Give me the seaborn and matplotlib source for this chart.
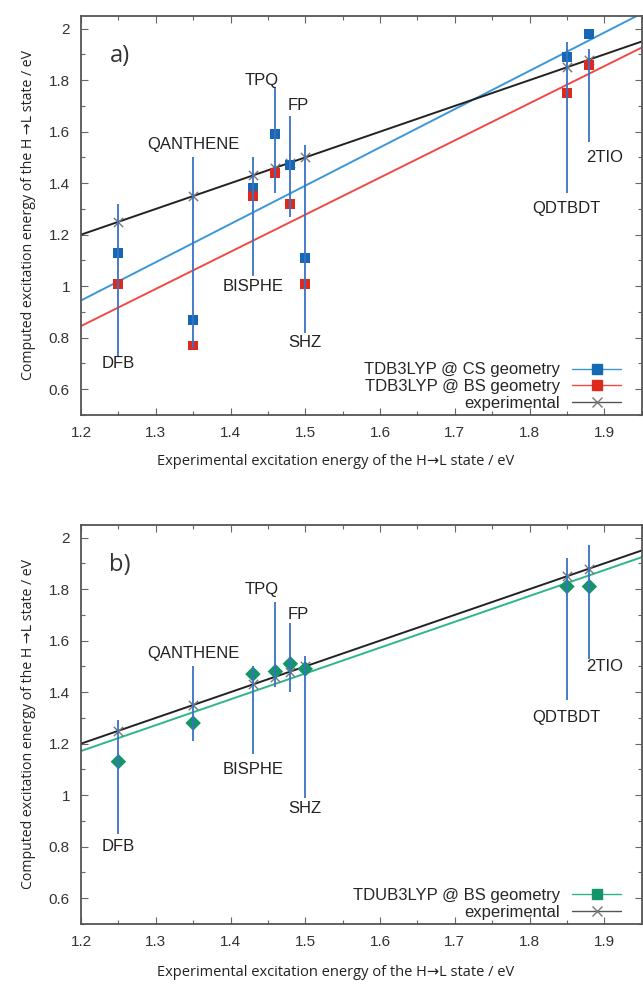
import numpy as np
import pandas as pd
import seaborn as sns
import matplotlib
import matplotlib.pyplot as plt
from matplotlib.lines import Line2D
from matplotlib.ticker import MultipleLocator

matplotlib.use("agg")

# data
molecules = ["DFB", "QANTHENE", "BISPHE", "TPQ", "FP", "SHZ", "QDTBDT", "2TIO"]
exp_energy = [1.25, 1.35, 1.43, 1.46, 1.48, 1.50, 1.85, 1.88]
cs_b3lyp = [1.13, 0.87, 1.38, 1.59, 1.47, 1.11, 1.89, 1.98]
bs_b3lyp = [1.01, 0.77, 1.35, 1.44, 1.32, 1.01, 1.75, 1.86]
bs_ub3lyp = [1.13, 1.28, 1.47, 1.48, 1.51, 1.49, 1.81, 1.81]

# vertical range bars
range_lo_a = [0.73, 0.76, 1.04, 1.36, 1.27, 0.82, 1.36, 1.56]
range_hi_a = [1.32, 1.50, 1.50, 1.77, 1.66, 1.55, 1.95, 1.92]
range_lo_b = [0.85, 1.21, 1.16, 1.42, 1.40, 0.99, 1.37, 1.53]
range_hi_b = [1.29, 1.50, 1.50, 1.75, 1.67, 1.54, 1.92, 1.97]

# where the molecule names sit
name_x = [1.25, 1.35, 1.43, 1.441, 1.49, 1.50, 1.849, 1.90]
name_y_a = [0.70, 1.55, 1.00, 1.80, 1.70, 0.78, 1.30, 1.50]
name_y_b = [0.80, 1.55, 1.10, 1.80, 1.70, 0.95, 1.30, 1.50]

df = pd.DataFrame({"mol": molecules, "exp": exp_energy, "cs": cs_b3lyp,
                   "bs": bs_b3lyp, "ubs": bs_ub3lyp})

sns.set_theme(style="ticks")
plt.rcParams["font.family"] = ["Liberation Sans", "DejaVu Sans"]

BLUE_PT, BLUE_LN = "#1668b4", "#3b97d8"
RED_PT, RED_LN = "#dd2a1e", "#f04a44"
GRN_PT, GRN_LN = "#13946a", "#2fb58c"
BLK_LN, CROSS = "#222222", "#777777"
BAR = "#3a72c4"
LABEL_FONT = ["Open Sans", "DejaVu Sans"]

fig, (ax1, ax2) = plt.subplots(2, 1, figsize=(6.43, 9.85), dpi=100)
fig.subplots_adjust(left=0.126, right=0.998, top=0.984, bottom=0.062, hspace=0.275)


def style_axes(ax, tag, xlab_y):
    ax.set_xlim(1.2, 1.95)
    ax.set_ylim(0.5, 2.05)
    ax.xaxis.set_major_locator(MultipleLocator(0.1))
    ax.xaxis.set_minor_locator(MultipleLocator(0.05))
    ax.yaxis.set_minor_locator(MultipleLocator(0.1))
    ax.set_yticks(np.arange(0.6, 2.01, 0.2))
    ax.set_yticklabels(["0.6", "0.8", "1", "1.2", "1.4", "1.6", "1.8", "2"])
    ax.tick_params(which="both", direction="in", top=True, right=True,
                   color="#666666", labelsize=11, labelcolor="#333333")
    ax.tick_params(which="major", length=5, width=0.8, pad=8)
    ax.tick_params(which="minor", length=3, width=0.8)
    for s in ax.spines.values():
        s.set_color("#555555")
        s.set_linewidth(1.3)
    ax.set_xlabel("Experimental excitation energy of the H\u2192L state / eV",
                  fontsize=10.5, family=LABEL_FONT, color="#222222")
    ax.xaxis.set_label_coords(0.4545, xlab_y)
    ax.set_ylabel("Computed excitation energy of the H \u2192L state / eV",
                  fontsize=10.2, family=LABEL_FONT, color="#222222", labelpad=9)
    ax.text(1.252, 1.895, tag, fontsize=17, family=LABEL_FONT,
            color="#333333", ha="center", va="center")


def add_legend(ax, handles, labels):
    ax.legend(handles, labels, loc="lower right", bbox_to_anchor=(0.97, 0.0),
              frameon=False, markerfirst=False, fontsize=12,
              labelspacing=0.1, handlelength=2.9, handletextpad=0.75,
              borderpad=0.25, borderaxespad=0.0)


# ---- panel a
ax = ax1
ax.set_xlim(1.2, 1.95)
sns.regplot(data=df, x="exp", y="cs", scatter=False, ci=None, truncate=False,
            ax=ax, line_kws=dict(color=BLUE_LN, lw=1.4))
sns.regplot(data=df, x="exp", y="bs", scatter=False, ci=None, truncate=False,
            ax=ax, line_kws=dict(color=RED_LN, lw=1.4))
sns.regplot(data=df, x="exp", y="exp", scatter=False, ci=None, truncate=False,
            ax=ax, line_kws=dict(color=BLK_LN, lw=1.4))
sns.scatterplot(data=df, x="exp", y="exp", marker="x", color=CROSS, s=45,
                linewidth=1.0, ax=ax, zorder=3)
sns.scatterplot(data=df, x="exp", y="cs", marker="s", color=BLUE_PT, s=50,
                edgecolor="none", ax=ax, zorder=4)
sns.scatterplot(data=df, x="exp", y="bs", marker="s", color=RED_PT, s=50,
                edgecolor="none", ax=ax, zorder=4)
ax.vlines(exp_energy, range_lo_a, range_hi_a, color=BAR, lw=1.3, zorder=5)
for nm, x, y in zip(molecules, name_x, name_y_a):
    ax.text(x, y, nm, fontsize=12, ha="center", va="center", color="#222222")
handles = [
    Line2D([], [], color=BLUE_LN, lw=1, marker="s", ms=7, mfc=BLUE_PT, mec=BLUE_PT),
    Line2D([], [], color=RED_LN, lw=1, marker="s", ms=7, mfc=RED_PT, mec=RED_PT),
    Line2D([], [], color="#555555", lw=1, marker="x", ms=7, mec=CROSS),
]
add_legend(ax, handles, ["TDB3LYP @ CS geometry", "TDB3LYP @ BS geometry", "experimental"])
style_axes(ax, "a)", -0.098)

# ---- panel b
ax = ax2
ax.set_xlim(1.2, 1.95)
sns.regplot(data=df, x="exp", y="ubs", scatter=False, ci=None, truncate=False,
            ax=ax, line_kws=dict(color=GRN_LN, lw=1.4))
sns.regplot(data=df, x="exp", y="exp", scatter=False, ci=None, truncate=False,
            ax=ax, line_kws=dict(color=BLK_LN, lw=1.4))
sns.scatterplot(data=df, x="exp", y="exp", marker="x", color=CROSS, s=45,
                linewidth=1.0, ax=ax, zorder=3)
sns.scatterplot(data=df, x="exp", y="ubs", marker="D", color=GRN_PT, s=62,
                edgecolor="none", ax=ax, zorder=4)
ax.vlines(exp_energy, range_lo_b, range_hi_b, color=BAR, lw=1.3, zorder=5)
for nm, x, y in zip(molecules, name_x, name_y_b):
    ax.text(x, y, nm, fontsize=12, ha="center", va="center", color="#222222")
handles = [
    Line2D([], [], color=GRN_LN, lw=1, marker="s", ms=7, mfc=GRN_PT, mec=GRN_PT),
    Line2D([], [], color="#555555", lw=1, marker="x", ms=7, mec=CROSS),
]
add_legend(ax, handles, ["TDUB3LYP @ BS geometry", "experimental"])
style_axes(ax, "b)", -0.102)

fig.savefig("out.png", dpi=100)
